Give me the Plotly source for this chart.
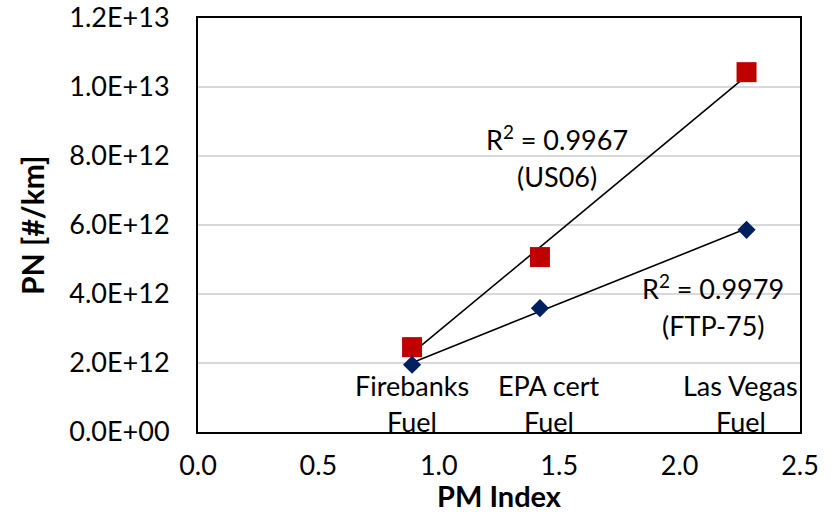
import numpy as np
import plotly.graph_objects as go

# PM index of each fuel and measured particle number emissions
fuel_names = [("Firebanks", "Fuel"), ("EPA cert", "Fuel"), ("Las Vegas", "Fuel")]
pm_index = [0.889, 1.42, 2.278]
pn_us06 = [2.46e12, 5.07e12, 10.43e12]
pn_ftp75 = [1.95e12, 3.59e12, 5.86e12]

r2_us06 = 0.9967
r2_ftp75 = 0.9979

y_tick_vals = [0, 2e12, 4e12, 6e12, 8e12, 1e13, 1.2e13]
y_tick_text = ["0.0E+00", "2.0E+12", "4.0E+12", "6.0E+12", "8.0E+12", "1.0E+13", "1.2E+13"]

FONT = "Lato, Carlito, Calibri, sans-serif"
RED = "#C00000"
NAVY = "#002060"
TXT = 27

x = np.array(pm_index)


def trend(yvals):
    k, b = np.polyfit(x, np.array(yvals), 1)
    xs = np.array([x.min(), x.max()])
    return xs, k * xs + b


fig = go.Figure()

for yvals in (pn_us06, pn_ftp75):
    tx, ty = trend(yvals)
    fig.add_trace(go.Scatter(x=tx, y=ty, mode="lines",
                             line=dict(color="black", width=1.6),
                             showlegend=False, hoverinfo="skip"))

fig.add_trace(go.Scatter(x=pm_index, y=pn_us06, mode="markers", name="US06",
                         marker=dict(symbol="square", size=20, color=RED),
                         showlegend=False))
fig.add_trace(go.Scatter(x=pm_index, y=pn_ftp75, mode="markers", name="FTP-75",
                         marker=dict(symbol="diamond", size=14, color=NAVY),
                         showlegend=False))

annotations = []
label_shift = [0, 9, -6]
for (line1, line2), xv, dx in zip(fuel_names, pm_index, label_shift):
    for text, dy in ((line1, 47), (line2, 11)):
        annotations.append(dict(x=xv, y=0, xref="x", yref="y", text=text,
                                showarrow=False, xshift=dx, yshift=dy,
                                yanchor="middle", xanchor="center",
                                font=dict(family=FONT, size=TXT, color="black")))

annotations += [
    dict(x=1.49, y=8.52e12, text=f"R<sup>2</sup> = {r2_us06:.4f}", showarrow=False,
         font=dict(family=FONT, size=TXT, color="black")),
    dict(x=1.49, y=7.4e12, text="(US06)", showarrow=False,
         font=dict(family=FONT, size=TXT, color="black")),
    dict(x=2.14, y=4.2e12, text=f"R<sup>2</sup> = {r2_ftp75:.4f}", showarrow=False,
         font=dict(family=FONT, size=TXT, color="black")),
    dict(x=2.14, y=3.08e12, text="(FTP-75)", showarrow=False,
         font=dict(family=FONT, size=TXT, color="black")),
    # axis titles
    dict(x=0.5, y=0, xref="paper", yref="paper", yshift=-63, yanchor="middle",
         text="<b>PM Index</b>", showarrow=False,
         font=dict(family=FONT, size=29, color="black")),
    dict(x=0, y=0.5, xref="paper", yref="paper", xshift=-166, xanchor="center",
         text="<b>PN [#/km]</b>", textangle=-90, showarrow=False,
         font=dict(family=FONT, size=30, color="black")),
]

fig.update_layout(
    width=832, height=513,
    margin=dict(l=198, r=32, t=18, b=81, autoexpand=False),
    paper_bgcolor="white", plot_bgcolor="white",
    font=dict(family=FONT, size=27, color="black"),
    annotations=annotations,
)

fig.update_xaxes(range=[0, 2.5], tickvals=[0, 0.5, 1.0, 1.5, 2.0, 2.5],
                 tickformat=".1f", showgrid=False, zeroline=False,
                 showline=True, linecolor="black", linewidth=2, mirror=True,
                 ticks="outside", ticklen=9, tickcolor="rgba(0,0,0,0)",
                 ticklabeloverflow="allow", automargin=False)
fig.update_yaxes(range=[0, 1.2e13], tickvals=y_tick_vals, ticktext=y_tick_text,
                 showgrid=True, gridcolor="#D9D9D9", gridwidth=2, zeroline=False,
                 showline=True, linecolor="black", linewidth=2, mirror=True,
                 ticks="outside", ticklen=21, tickcolor="rgba(0,0,0,0)",
                 ticklabeloverflow="allow", automargin=False)

fig.write_html("out.html")
